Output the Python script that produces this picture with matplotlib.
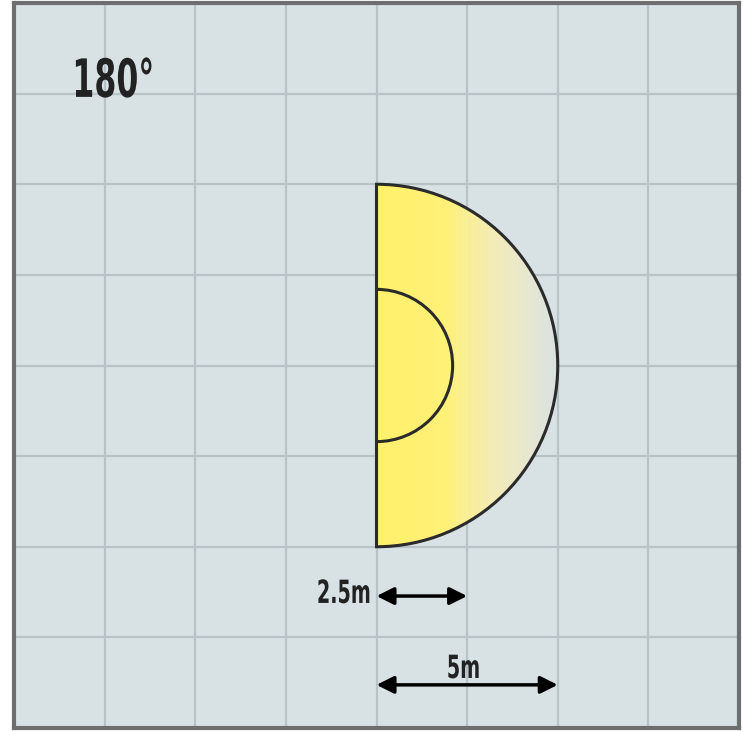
import numpy as np
import matplotlib.pyplot as plt
from matplotlib.patches import Wedge, Arc
from matplotlib.colors import LinearSegmentedColormap
from matplotlib.transforms import Affine2D
import matplotlib.patheffects as pe

# scene values (meters)
grid_step = 2.5
extent = 20.0
center = (10.0, 10.0)
outer_radius = 5.0
inner_radius = 2.1
angle_label = "180°"
dim_labels = ["2.5m", "5m"]
dim_lengths = [2.5, 5.0]
dim_y = [3.64, 1.19]

bg = "#d8e2e5"
grid_col = "#b7c3c7"
line_col = "#2b2b2b"
txt_col = "#222222"


class Narrow(pe.AbstractPathEffect):
    # squeeze glyphs horizontally around their own centre (condensed look)
    def __init__(self, sx):
        super().__init__()
        self.sx = sx

    def draw_path(self, renderer, gc, tpath, affine, rgbFace=None):
        bb = tpath.get_extents(affine)
        cx = (bb.x0 + bb.x1) / 2
        a = affine + Affine2D().translate(-cx, 0).scale(self.sx, 1).translate(cx, 0)
        renderer.draw_path(gc, tpath, a, rgbFace)


fig = plt.figure(figsize=(7.43, 7.31), dpi=100)
ax = fig.add_axes([14 / 743, 3 / 731, 725 / 743, 725 / 731])
ax.set_facecolor(bg)
ax.set_xlim(0, extent)
ax.set_ylim(0, extent)
ticks = np.arange(0, extent + 0.01, grid_step)
ax.set_xticks(ticks)
ax.set_yticks(ticks)
ax.tick_params(length=0, labelbottom=False, labelleft=False)
ax.grid(True, color=grid_col, lw=1.6)
ax.set_axisbelow(True)
for s in ax.spines.values():
    s.set_color("#6e6e6e")
    s.set_linewidth(3)

# gradient fill clipped to the half disc
cmap = LinearSegmentedColormap.from_list(
    "glow", [(0.0, "#fff06c"), (0.38, "#fff178"), (0.5, "#f9ef98"),
             (0.65, "#f3ecb8"), (0.85, "#e5e7d3"), (1.0, "#dae2e3")])
cx, cy = center
grad = np.linspace(0, 1, 256).reshape(1, -1)
img = ax.imshow(grad, cmap=cmap, aspect="auto", zorder=2,
                extent=(cx, cx + outer_radius, cy - outer_radius, cy + outer_radius))
outer = Wedge(center, outer_radius, -90, 90, facecolor="none",
              edgecolor=line_col, lw=2.2, zorder=3)
ax.add_patch(outer)
img.set_clip_path(outer)
ax.add_patch(Arc(center, 2 * inner_radius, 2 * inner_radius, theta1=-90, theta2=90,
                 color=line_col, lw=2.2, zorder=3))

narrow = [Narrow(0.6)]
ax.text(2.73, 17.41, angle_label, fontsize=38, fontweight="bold", color=txt_col,
        ha="center", va="baseline", path_effects=narrow)

for label, length, y in zip(dim_labels, dim_lengths, dim_y):
    ax.annotate("", xy=(cx, y), xytext=(cx + length, y),
                arrowprops=dict(arrowstyle="<|-|>", color="black", lw=2.5,
                                mutation_scale=26, shrinkA=0, shrinkB=0), zorder=4)
    if length < 3:
        tx, ty = cx - 0.9, y - 0.19
    else:
        tx, ty = cx + length / 2 - 0.1, y + 0.19
    ax.text(tx, ty, label, fontsize=23, fontweight="bold", color=txt_col,
            ha="center", va="baseline", path_effects=narrow)

fig.savefig("out.png", dpi=100, facecolor="white")
